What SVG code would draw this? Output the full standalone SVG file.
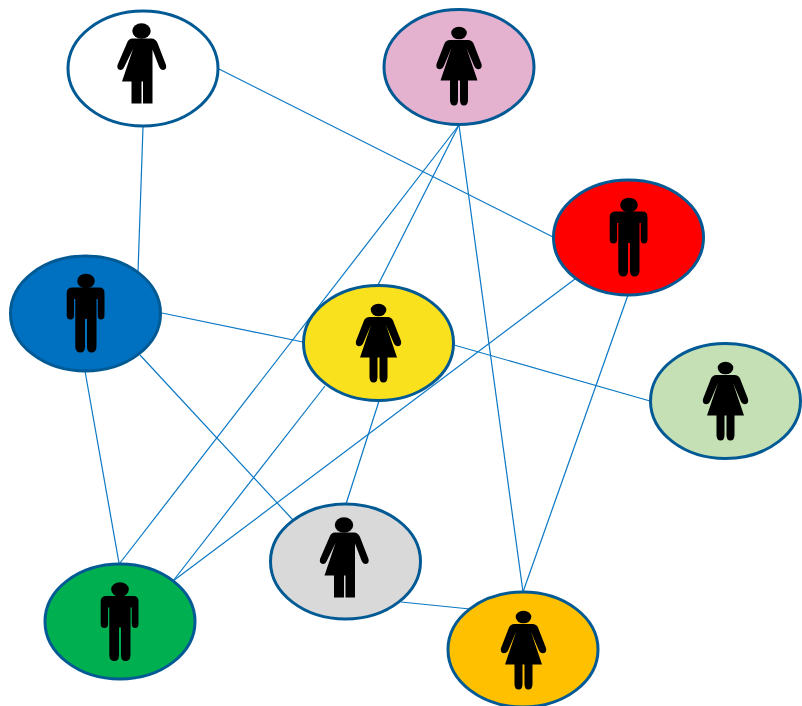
<svg xmlns="http://www.w3.org/2000/svg" width="802" height="706" viewBox="0 0 802 706">
<style>
.c{stroke:#0a78c4;stroke-width:1.2;fill:none}
.n{stroke:#025a95;stroke-width:3}
</style>
<defs>
<g id="man">
<ellipse cx="0.5" cy="-32" rx="8.8" ry="7.300"/>
<path d="M-13-25.500H14Q19-25.500 19-20V2.500Q19 6.500 15.500 6.500Q12.300 6.500 12.300 2.500V-14H11V33.500Q11 39.500 5.800 39.500Q1.500 39.500 1.500 33.500V6H-.5V33.500Q-.5 39.500-5 39.500Q-10.200 39.500-10.200 33.500V-14H-11.500V2.500Q-11.500 6.500-15 6.500Q-18.800 6.500-18.800 2.500V-20Q-18.800-25.500-13-25.500Z"/>
</g>
<g id="woman">
<ellipse cx="0" cy="-34" rx="7.800" ry="6.300"/>
<path d="M-9-27H9Q13-27 14.500-23.500L22.500-3Q23.500 1.800 19.500 2.300Q16.800 2.300 15.200-1L7.500-19L18.500 13.500H9V33Q9 38.500 4.800 38.500Q1 38.500 1 33V13.500H-1V33Q-1 38.500-4.800 38.500Q-9 38.500-9 33V13.500H-18.500L-7.500-19L-15.200-1Q-16.800 2.300-19.500 2.300Q-23.500 1.800-22.500-3L-14.500-23.500Q-13-27-9-27Z"/>
</g>
<g id="trans">
<ellipse cx="-1.500" cy="-37" rx="9.200" ry="7.800"/>
<path d="M-10.500-29.500H8.500Q12.500-29.500 14.500-25L23-3Q24 1.500 20.300 2Q17.500 2 16-1.500L9.500-18.500V35.500H0V13.500H-1.500V35.500H-11.500V13.500H-21L-10-19L-18.500-1.500Q-20 2-22.500 2Q-26.500 1.500-25.500-3L-16-25Q-14.500-29.500-10.500-29.500Z"/>
</g>
</defs>
<g id="connectors">
<line class="c" x1="219" y1="69" x2="553" y2="237"/>
<line class="c" x1="143" y1="127" x2="138" y2="272"/>
<line class="c" x1="459" y1="125" x2="120" y2="563"/>
<line class="c" x1="459" y1="125" x2="378" y2="285"/>
<line class="c" x1="459" y1="125" x2="523" y2="592"/>
<line class="c" x1="162" y1="313" x2="303" y2="342"/>
<line class="c" x1="140" y1="355" x2="293" y2="520"/>
<line class="c" x1="85" y1="371" x2="119" y2="563"/>
<line class="c" x1="454" y1="345" x2="650" y2="401"/>
<line class="c" x1="575" y1="279" x2="173" y2="581"/>
<line class="c" x1="325" y1="386" x2="173" y2="581"/>
<line class="c" x1="379" y1="401" x2="346" y2="504"/>
<line class="c" x1="628" y1="295" x2="523" y2="592"/>
<line class="c" x1="401" y1="602" x2="470" y2="609"/>
</g>
<g id="node-white"><ellipse class="n" cx="143" cy="68.500" rx="75" ry="57.500" fill="#fff"/><use href="#trans" x="143" y="68"/></g>
<g id="node-pink"><ellipse class="n" cx="459" cy="67" rx="75" ry="57.500" fill="#e4b1cf"/><use href="#woman" x="459" y="67"/></g>
<g id="node-red"><ellipse class="n" cx="628.500" cy="237.500" rx="75" ry="57.500" fill="#ff0000"/><use href="#man" x="628.500" y="237"/></g>
<g id="node-blue"><ellipse class="n" cx="85.500" cy="313.500" rx="75" ry="57.500" fill="#0070c0"/><use href="#man" x="85.500" y="313"/></g>
<g id="node-yellow"><ellipse class="n" cx="378.500" cy="343" rx="75" ry="57.500" fill="#f9e11e"/><use href="#woman" x="378.500" y="344"/></g>
<g id="node-lightgreen"><ellipse class="n" cx="725.500" cy="401" rx="75" ry="57.500" fill="#c5e0b4"/><use href="#woman" x="725.500" y="402"/></g>
<g id="node-gray"><ellipse class="n" cx="345.500" cy="561.500" rx="75" ry="57.500" fill="#d9d9d9"/><use href="#trans" x="345.500" y="562"/></g>
<g id="node-green"><ellipse class="n" cx="120" cy="621.500" rx="75" ry="57.500" fill="#00b050"/><use href="#man" x="119.500" y="621.500"/></g>
<g id="node-orange"><ellipse class="n" cx="523" cy="649.500" rx="75" ry="57.500" fill="#ffc000"/><use href="#woman" x="523.500" y="651"/></g>
</svg>
